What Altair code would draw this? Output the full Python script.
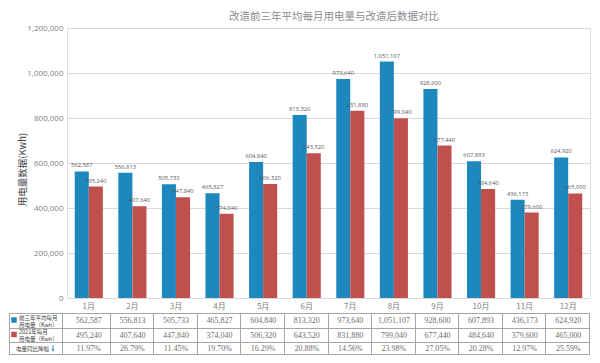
import altair as alt
import pandas as pd

# ---------------- data ----------------
months = ["1月", "2月", "3月", "4月", "5月", "6月", "7月", "8月", "9月", "10月", "11月", "12月"]
prev_avg = [562587, 556813, 505733, 465827, 604840, 813320, 973640, 1051107, 928600, 607893, 436173, 624920]
year_2021 = [495240, 407640, 447840, 374040, 506320, 643520, 831880, 799040, 677440, 484640, 379600, 465000]
drop_pct = ["11.97%", "26.79%", "11.45%", "19.70%", "16.29%", "20.88%", "14.56%", "23.98%", "27.05%", "20.28%", "12.97%", "25.59%"]
series_names = ["前三年平均每月用电量（Kwh）", "2021年每月用电量（Kwh）"]
row_label_1 = ["前三年平均每月", "用电量（Kwh）"]
row_label_2 = ["2021年每月", "用电量（Kwh）"]
row_label_3 = "电量同比降幅"
chart_title = "改造前三年平均每月用电量与改造后数据对比"
y_title = "用电量数据(Kwh)"
y_ticks = [0, 200000, 400000, 600000, 800000, 1000000, 1200000]

bars_df = pd.DataFrame({
    "month": months * 2,
    "series": [series_names[0]] * len(months) + [series_names[1]] * len(months),
    "value": prev_avg + year_2021,
})
bars_df["label"] = bars_df["value"].map(lambda v: f"{v:,}")

table_df = pd.DataFrame({
    "month": months,
    "prev": [f"{v:,}" for v in prev_avg],
    "cur": [f"{v:,}" for v in year_2021],
    "drop": drop_pct,
})

# ---------------- layout ----------------
W, H = 523, 270
BLUE = "#1E88BE"
RED = "#C0504D"
GRID = "#D9D9D9"
LINE = "#A6A6A6"
TXT = "#595959"

x_enc = alt.X(
    "month:N", sort=months,
    scale=alt.Scale(domain=months, paddingInner=0.355, paddingOuter=0.1775),
    axis=alt.Axis(title=None, labelAngle=0, domain=False, ticks=False, labelPadding=4,
                  labelFont="Noto Sans CJK SC", labelFontSize=8, labelColor="#7F7F7F"),
)
y_enc = alt.Y(
    "value:Q",
    scale=alt.Scale(domain=[0, 1200000], nice=False),
    axis=alt.Axis(values=y_ticks, labelExpr="format(datum.value, ',')", domain=False, ticks=False,
                  labelPadding=4,
                  labelFont="Open Sans", labelFontSize=8, labelColor="#7F7F7F",
                  gridColor=GRID, gridWidth=1,
                  title=y_title, titleFont="Noto Sans CJK SC", titleFontSize=9.5,
                  titleFontWeight="normal", titleColor="#404040",
                  titleX=-45, titleY=141, titleAlign="center", titleBaseline="middle", titleAngle=-90),
)
color_enc = alt.Color("series:N", scale=alt.Scale(domain=series_names, range=[BLUE, RED]), legend=None)
xoff_enc = alt.XOffset("series:N", sort=series_names,
                       scale=alt.Scale(domain=series_names, paddingInner=0, paddingOuter=0))

base = alt.Chart(bars_df)
bars = base.mark_bar().encode(x=x_enc, y=y_enc, color=color_enc, xOffset=xoff_enc)
bar_labels = base.mark_text(dy=-4, baseline="alphabetic", font="Open Sans", fontSize=5.8, color=TXT).encode(
    x=x_enc, y=y_enc, xOffset=xoff_enc, text="label:N")

one = pd.DataFrame({"k": [0]})

title = alt.Chart(one).mark_text(font="Noto Sans CJK SC", fontSize=10.5, color="#8C8C8C",
                                 align="center", baseline="middle").encode(
    x=alt.value(267), y=alt.value(-11), text=alt.value(chart_title))

# table row y positions (plot-relative px)
ROW_TOP = [285.5, 300.5, 314.5, 326.5]
row_c = [(ROW_TOP[i] + ROW_TOP[i + 1]) / 2 for i in range(3)]

tab = alt.Chart(table_df)
tab_layers = []
for col, yc in zip(["prev", "cur", "drop"], row_c):
    tab_layers.append(tab.mark_text(font="Liberation Serif", fontSize=8, color="#6E6E6E",
                                    align="center", baseline="middle").encode(
        x=x_enc, y=alt.value(yc), text=f"{col}:N"))

lines = []
LEFT = -58
for yy in ROW_TOP:
    lines.append(alt.Chart(one).mark_rule(color=LINE, strokeWidth=1).encode(
        x=alt.value(LEFT), x2=alt.value(W), y=alt.value(yy)))
step = W / len(months)
vx = [LEFT + 0.5, -4.5] + [round(k * step) - 0.5 for k in range(1, len(months) + 1)]
for xx in vx:
    lines.append(alt.Chart(one).mark_rule(color=LINE, strokeWidth=1).encode(
        x=alt.value(xx), y=alt.value(ROW_TOP[0]), y2=alt.value(ROW_TOP[-1])))

# left column labels
small = dict(font="Noto Sans CJK SC", fontSize=5.5, color="#404040", align="left", baseline="middle")
left_items = []
for (l1, l2), yc, colr in [(row_label_1, row_c[0], BLUE), (row_label_2, row_c[1], RED)]:
    left_items.append(alt.Chart(one).mark_square(size=30, color=colr, opacity=1).encode(
        x=alt.value(-53), y=alt.value(yc - 1)))
    left_items.append(alt.Chart(one).mark_text(**small).encode(
        x=alt.value(-48), y=alt.value(yc - 3.5), text=alt.value(l1)))
    left_items.append(alt.Chart(one).mark_text(**small).encode(
        x=alt.value(-48), y=alt.value(yc + 3.5), text=alt.value(l2)))
left_items.append(alt.Chart(one).mark_text(**small).encode(
    x=alt.value(-51), y=alt.value(row_c[2]), text=alt.value(row_label_3)))
left_items.append(alt.Chart(one).mark_point(shape="arrow", filled=True, angle=180, size=45,
                                            color=BLUE, opacity=1).encode(
    x=alt.value(-14), y=alt.value(row_c[2])))

chart = alt.layer(bars, bar_labels, title, *tab_layers, *lines, *left_items).properties(
    width=W, height=H,
    autosize=alt.AutoSizeParams(type="none"),
    padding={"left": 59, "top": 20, "right": 2, "bottom": 57},
).configure_view(stroke=None).configure(background="white")

chart.save("out.html", embed_options={"renderer": "svg", "actions": False})
